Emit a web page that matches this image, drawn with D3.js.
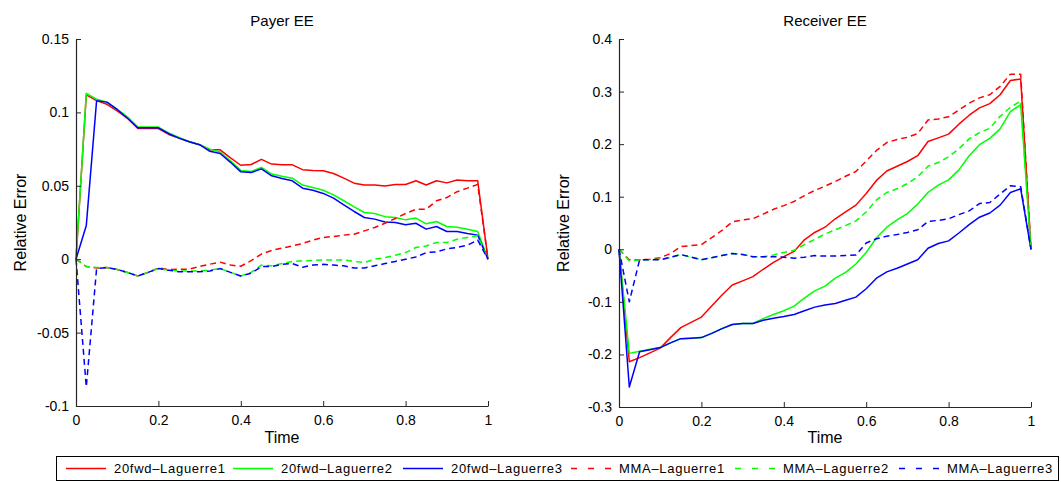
<!DOCTYPE html>
<html>
<head>
<meta charset="utf-8">
<script src="https://cdn.jsdelivr.net/npm/d3@7"></script>
<style>
  html, body { margin: 0; padding: 0; background: #fff; }
  svg { display: block; font-family: "Liberation Sans", Arial, Helvetica, sans-serif; }
</style>
</head>
<body>
<svg id="chart" width="1061" height="482"></svg>
<script>
// Time grid shared by every series
const time = [0, 0.025, 0.05, 0.075, 0.1, 0.125, 0.15, 0.175, 0.2, 0.225, 0.25,
  0.275, 0.3, 0.325, 0.35, 0.375, 0.4, 0.425, 0.45, 0.475, 0.5,
  0.525, 0.55, 0.575, 0.6, 0.625, 0.65, 0.675, 0.7, 0.725, 0.75,
  0.775, 0.8, 0.825, 0.85, 0.875, 0.9, 0.925, 0.95, 0.975, 1];

const seriesNames = ["20fwd\u2013Laguerre1", "20fwd\u2013Laguerre2", "20fwd\u2013Laguerre3",
  "MMA\u2013Laguerre1", "MMA\u2013Laguerre2", "MMA\u2013Laguerre3"];
const seriesColors = ["#ff0000", "#00ff00", "#0000ff", "#ff0000", "#00ff00", "#0000ff"];
const seriesDashed = [false, false, false, true, true, true];

// Payer EE relative errors
const payerFwd1 = [0, 0.112, 0.108, 0.1055, 0.101, 0.096, 0.089, 0.089, 0.089, 0.085, 0.0825,
  0.080, 0.078, 0.0745, 0.0745, 0.069, 0.064, 0.0645, 0.068, 0.0648, 0.0643,
  0.0643, 0.061, 0.0605, 0.0602, 0.0584, 0.0552, 0.0518, 0.0505, 0.0505, 0.0498,
  0.0509, 0.0509, 0.0534, 0.0505, 0.0534, 0.052, 0.0539, 0.0534, 0.0534, 0];
const payerFwd2 = [0, 0.113, 0.109, 0.107, 0.102, 0.097, 0.090, 0.090, 0.090, 0.086, 0.083,
  0.080, 0.078, 0.075, 0.073, 0.067, 0.0605, 0.0598, 0.0625, 0.058, 0.0565,
  0.0552, 0.0505, 0.0489, 0.047, 0.0438, 0.0398, 0.0357, 0.0318, 0.0311, 0.029,
  0.0284, 0.0268, 0.028, 0.0241, 0.0257, 0.0223, 0.0218, 0.0204, 0.0189, 0];
const payerFwd3 = [0, 0.023, 0.108, 0.107, 0.102, 0.096, 0.0895, 0.0895, 0.0895, 0.0855, 0.0825,
  0.080, 0.078, 0.0735, 0.072, 0.066, 0.0595, 0.059, 0.0615, 0.0568, 0.055,
  0.0534, 0.0484, 0.047, 0.0448, 0.0416, 0.037, 0.0325, 0.0284, 0.0273, 0.0254,
  0.025, 0.0234, 0.0245, 0.0205, 0.0223, 0.0189, 0.0189, 0.0175, 0.0164, 0];
const payerMma1 = [0, -0.005, -0.006, -0.0057, -0.007, -0.009, -0.0114, -0.009, -0.0060, -0.007, -0.0068,
  -0.0068, -0.005, -0.0034, -0.002, -0.004, -0.0048, -0.001, 0.0035, 0.006, 0.0075,
  0.009, 0.0107, 0.013, 0.0148, 0.0155, 0.0164, 0.017, 0.0193, 0.0216, 0.0245,
  0.0277, 0.0311, 0.034, 0.034, 0.0398, 0.042, 0.046, 0.0484, 0.051, 0];
const payerMma2 = [0, -0.005, -0.0057, -0.0057, -0.007, -0.009, -0.0114, -0.009, -0.0064, -0.0075, -0.008,
  -0.008, -0.008, -0.0075, -0.0064, -0.009, -0.0114, -0.009, -0.004, -0.0045, -0.003,
  -0.0016, -0.0011, -0.0008, -0.0005, -0.0005, -0.0005, -0.0015, -0.0023, 0, 0.0011,
  0.0027, 0.0045, 0.008, 0.009, 0.0114, 0.0114, 0.0136, 0.0148, 0.0159, 0];
const payerMma3 = [0, -0.087, -0.0064, -0.0057, -0.007, -0.009, -0.0114, -0.009, -0.0064, -0.0075, -0.0085,
  -0.0085, -0.0085, -0.008, -0.0064, -0.009, -0.0114, -0.0095, -0.005, -0.005, -0.0035,
  -0.003, -0.0055, -0.004, -0.0035, -0.004, -0.0045, -0.006, -0.006, -0.0045, -0.003,
  -0.0015, 0, 0.0015, 0.0045, 0.005, 0.007, 0.008, 0.0095, 0.013, 0];

// Receiver EE relative errors
const receiverFwd1 = [0, -0.214, -0.206, -0.197, -0.188, -0.168, -0.149, -0.139, -0.129, -0.108, -0.087,
  -0.068, -0.060, -0.052, -0.038, -0.025, -0.014, -0.004, 0.018, 0.032, 0.042,
  0.058, 0.071, 0.084, 0.106, 0.131, 0.149, 0.158, 0.167, 0.178, 0.205,
  0.212, 0.219, 0.238, 0.255, 0.269, 0.277, 0.294, 0.321, 0.324, 0];
const receiverFwd2 = [0, -0.198, -0.194, -0.190, -0.187, -0.178, -0.170, -0.169, -0.168, -0.160, -0.151,
  -0.143, -0.141, -0.141, -0.132, -0.124, -0.117, -0.108, -0.093, -0.079, -0.070,
  -0.055, -0.044, -0.028, -0.006, 0.022, 0.042, 0.056, 0.068, 0.086, 0.108,
  0.122, 0.132, 0.151, 0.178, 0.199, 0.211, 0.229, 0.262, 0.275, 0];
const receiverFwd3 = [0, -0.262, -0.195, -0.191, -0.187, -0.178, -0.170, -0.169, -0.168, -0.160, -0.151,
  -0.143, -0.141, -0.141, -0.135, -0.131, -0.128, -0.124, -0.117, -0.110, -0.106,
  -0.103, -0.097, -0.091, -0.075, -0.055, -0.043, -0.036, -0.028, -0.020, 0.002,
  0.011, 0.016, 0.031, 0.047, 0.061, 0.069, 0.084, 0.108, 0.115, 0];
const receiverMma1 = [0, -0.020, -0.020, -0.019, -0.016, -0.008, 0.005, 0.007, 0.009, 0.022, 0.036,
  0.052, 0.056, 0.058, 0.067, 0.076, 0.083, 0.091, 0.102, 0.112, 0.120,
  0.129, 0.139, 0.148, 0.168, 0.188, 0.203, 0.209, 0.213, 0.220, 0.246,
  0.248, 0.252, 0.265, 0.278, 0.288, 0.294, 0.310, 0.333, 0.333, 0];
const receiverMma2 = [0, -0.022, -0.020, -0.020, -0.019, -0.016, -0.010, -0.015, -0.020, -0.016, -0.012,
  -0.008, -0.010, -0.014, -0.014, -0.011, -0.006, -0.002, 0.009, 0.019, 0.029,
  0.037, 0.045, 0.054, 0.071, 0.094, 0.108, 0.115, 0.125, 0.138, 0.158,
  0.165, 0.176, 0.191, 0.210, 0.222, 0.230, 0.253, 0.270, 0.282, 0];
const receiverMma3 = [0, -0.100, -0.020, -0.020, -0.020, -0.015, -0.010, -0.015, -0.020, -0.016, -0.012,
  -0.008, -0.010, -0.014, -0.014, -0.014, -0.015, -0.017, -0.015, -0.012, -0.013,
  -0.013, -0.012, -0.011, 0.012, 0.020, 0.025, 0.028, 0.032, 0.037, 0.053,
  0.055, 0.058, 0.066, 0.073, 0.087, 0.089, 0.105, 0.121, 0.119, 0];

// Axis ticks
const xTicks = [0, 0.2, 0.4, 0.6, 0.8, 1];
const xTickLabels = ["0", "0.2", "0.4", "0.6", "0.8", "1"];
const payerYTicks = [-0.1, -0.05, 0, 0.05, 0.1, 0.15];
const payerYTickLabels = ["-0.1", "-0.05", "0", "0.05", "0.1", "0.15"];
const receiverYTicks = [-0.3, -0.2, -0.1, 0, 0.1, 0.2, 0.3, 0.4];
const receiverYTickLabels = ["-0.3", "-0.2", "-0.1", "0", "0.1", "0.2", "0.3", "0.4"];

const svg = d3.select("#chart");
const axisColor = "#262626";

function drawPanel(opts) {
  const x = d3.scaleLinear().domain([0, 1]).range([opts.left, opts.right]);
  const y = d3.scaleLinear().domain(opts.yDomain).range([opts.bottom, opts.top]);
  const g = svg.append("g");

  // series lines
  const line = d3.line().x((d, i) => x(time[i])).y(d => y(d));
  opts.series.forEach((vals, k) => {
    g.append("path")
      .datum(vals)
      .attr("d", line)
      .attr("fill", "none")
      .attr("stroke", seriesColors[k])
      .attr("stroke-width", 1.5)
      .attr("stroke-linejoin", "round")
      .attr("stroke-dasharray", seriesDashed[k] ? "6,4" : null);
  });

  // axes (ticks drawn inward)
  const xAxis = d3.axisBottom(x)
    .tickValues(xTicks)
    .tickFormat((d, i) => xTickLabels[i])
    .tickSizeInner(-5).tickSizeOuter(0).tickPadding(9);
  const yAxis = d3.axisLeft(y)
    .tickValues(opts.yTicks)
    .tickFormat((d, i) => opts.yTickLabels[i])
    .tickSizeInner(-5).tickSizeOuter(0).tickPadding(7);

  const gx = g.append("g").attr("transform", `translate(0,${opts.bottom})`).call(xAxis);
  const gy = g.append("g").attr("transform", `translate(${opts.left},0)`).call(yAxis);
  [gx, gy].forEach(a => {
    a.select(".domain").attr("stroke", axisColor).attr("stroke-width", 1.2);
    a.selectAll(".tick line").attr("stroke", axisColor).attr("stroke-width", 1);
    a.selectAll(".tick text").attr("fill", "#000").attr("font-size", 14)
      .attr("font-family", "'Liberation Sans', Arial, sans-serif");
  });
  gx.selectAll(".tick text").attr("dy", "0.71em");

  // title and axis labels
  const cx = (opts.left + opts.right) / 2;
  g.append("text").attr("x", cx).attr("y", 26).attr("text-anchor", "middle")
    .attr("font-size", 15).attr("fill", "#000").text(opts.title);
  g.append("text").attr("x", cx).attr("y", 443).attr("text-anchor", "middle")
    .attr("font-size", 16).attr("fill", "#000").text("Time");
  g.append("text")
    .attr("transform", `translate(${opts.left - 50},${(opts.top + opts.bottom) / 2}) rotate(-90)`)
    .attr("text-anchor", "middle").attr("font-size", 16).attr("fill", "#000")
    .text("Relative Error");
}

drawPanel({
  left: 76, right: 488, top: 39, bottom: 406,
  yDomain: [-0.1, 0.15], yTicks: payerYTicks, yTickLabels: payerYTickLabels,
  title: "Payer EE",
  series: [payerFwd1, payerFwd2, payerFwd3, payerMma1, payerMma2, payerMma3]
});

drawPanel({
  left: 619, right: 1031, top: 39, bottom: 407,
  yDomain: [-0.3, 0.4], yTicks: receiverYTicks, yTickLabels: receiverYTickLabels,
  title: "Receiver EE",
  series: [receiverFwd1, receiverFwd2, receiverFwd3, receiverMma1, receiverMma2, receiverMma3]
});

// Legend along the bottom
const legend = svg.append("g");
legend.append("rect")
  .attr("x", 56.5).attr("y", 456.5).attr("width", 1002).attr("height", 24)
  .attr("fill", "#fff").attr("stroke", "#000").attr("stroke-width", 1);
const legendX = [66, 233, 403, 571, 735, 899];
seriesNames.forEach((name, k) => {
  const lx = legendX[k];
  legend.append("line")
    .attr("x1", lx).attr("x2", lx + 40).attr("y1", 468.5).attr("y2", 468.5)
    .attr("stroke", seriesColors[k]).attr("stroke-width", 1.5)
    .attr("stroke-dasharray", seriesDashed[k] ? "6,11" : null);
  legend.append("text")
    .attr("x", lx + 48).attr("y", 473)
    .attr("font-size", 13).attr("letter-spacing", "0.7px").attr("fill", "#000")
    .text(name);
});
</script>
</body>
</html>
